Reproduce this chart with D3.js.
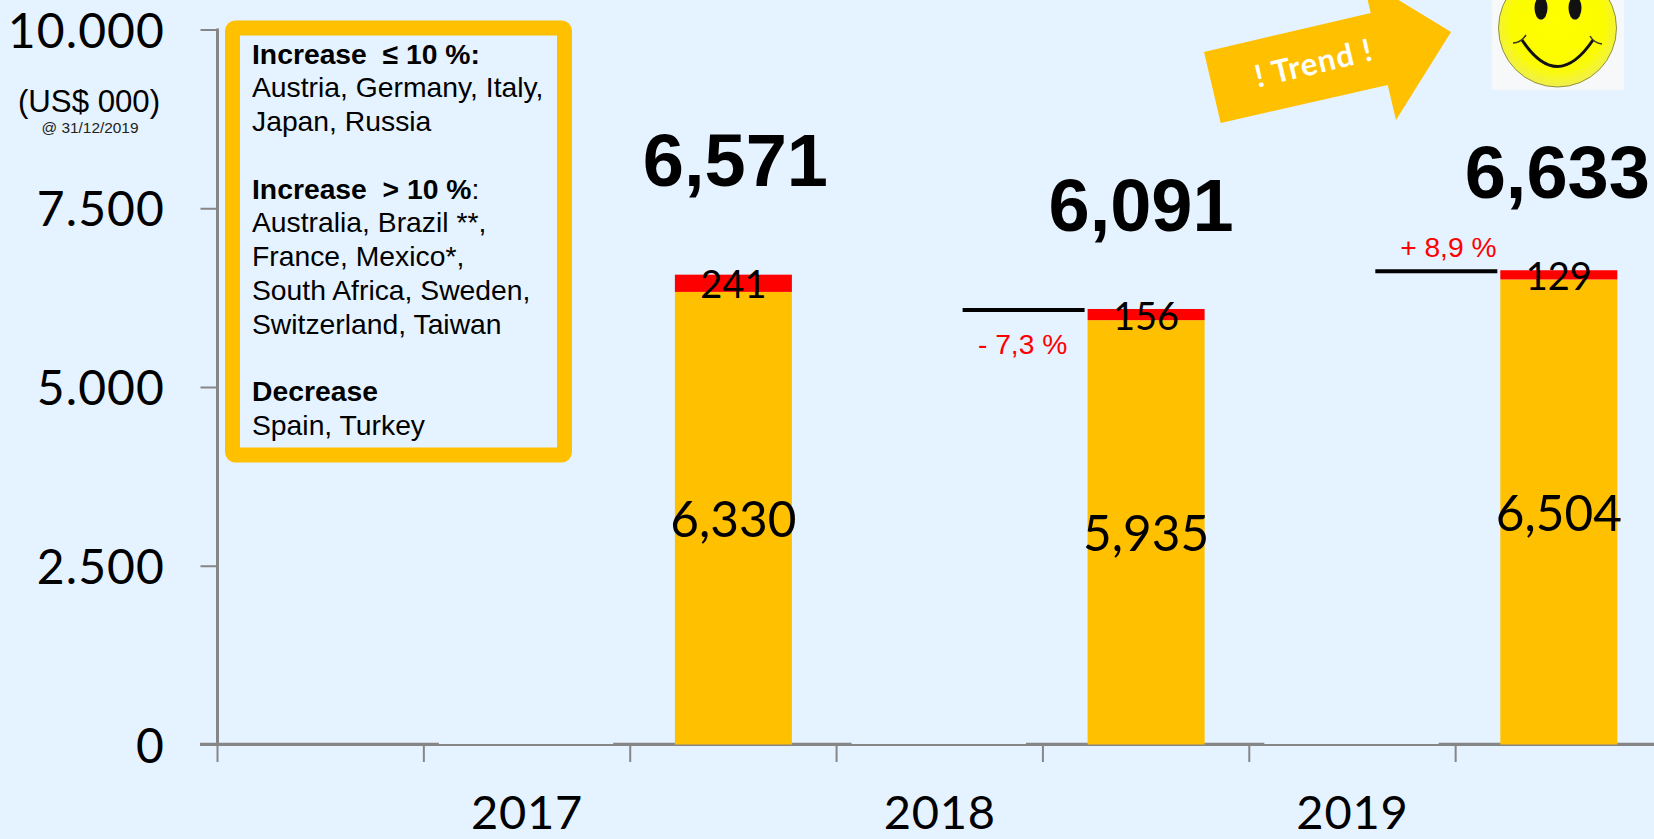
<!DOCTYPE html>
<html><head><meta charset="utf-8">
<script src="https://cdn.jsdelivr.net/npm/d3@7"></script>
<style>html,body{margin:0;padding:0;background:#E5F2FF;overflow:hidden}svg{display:block}</style>
</head><body><svg id="c" width="1654" height="839"></svg>
<script>
const slots = ["s0","2017","s2","2018","s4","2019","s6"];
const years = ["2017","2018","2019"];
const barSlots = ["s2","s4","s6"];
const mainValues = [6330,5935,6504];
const topValues = [241,156,129];
const totals = [6571,6091,6633];
const yTicks = [0,2500,5000,7500,10000];
const yTickLabels = ["0","2.500","5.000","7.500","10.000"];
const compareLines = [{slot:"s4",value:6091,label:"- 7,3 %"},{slot:"s6",value:6633,label:"+ 8,9 %"}];
const legendLines = [
 [["Increase  ≤ 10 %:",1]],[["Austria, Germany, Italy,",0]],[["Japan, Russia",0]],[],
 [["Increase  > 10 %",1],[":",0]],[["Australia, Brazil **,",0]],[["France, Mexico*,",0]],[["South Africa, Sweden,",0]],[["Switzerland, Taiwan",0]],[],
 [["Decrease",1]],[["Spain, Turkey",0]]];

const CAL="Lato, 'Open Sans', sans-serif", ARIAL="'Liberation Sans', Arial, sans-serif";
const svg=d3.select("#c");
svg.append("rect").attr("width",1654).attr("height",839).attr("fill","#E5F2FF");
const x=d3.scaleBand().domain(slots).range([217.5,1662]);
const y=d3.scaleLinear().domain([0,10000]).range([744.5,29.5]);
const barW=x.bandwidth()*0.567;
const bx=s=>x(s)+x.bandwidth()/2-barW/2;
const cx=s=>x(s)+x.bandwidth()/2;
const fmt=d3.format(",");

// axes
const grey="#868686";
const yAxis=svg.append("g").attr("transform","translate(217.5,0)").call(
  d3.axisLeft(y).tickValues(yTicks.slice(1)).tickSize(17).tickFormat(""));
yAxis.selectAll("line").attr("stroke",grey).attr("stroke-width",2);
yAxis.select(".domain").attr("d",`M0,${y(10000)-1}V${y(0)}`).attr("stroke",grey).attr("stroke-width",3);
svg.append("g").selectAll("text").data(yTicks).join("text")
  .attr("x",165).attr("y",d=>y(d)+18).attr("text-anchor","end")
  .attr("font-family",CAL).attr("font-size",48).attr("letter-spacing",1.1).attr("fill","#000")
  .text((d,i)=>yTickLabels[i]);
const xAxis=svg.append("g");
xAxis.append("line").attr("x1",200).attr("x2",1654).attr("y1",745).attr("y2",745).attr("stroke",grey).attr("stroke-width",2);
xAxis.selectAll("line.s").data(["s0","s2","s4","s6"]).join("line").attr("class","s")
  .attr("x1",d=>d==="s0"?200:x(d)-17).attr("x2",d=>x(d)+x.bandwidth()+15).attr("y1",744.4).attr("y2",744.4)
  .attr("stroke",grey).attr("stroke-width",3.3);
xAxis.selectAll("line.t").data(slots).join("line").attr("class","t")
  .attr("x1",d=>x(d)).attr("x2",d=>x(d)).attr("y1",745).attr("y2",762)
  .attr("stroke",grey).attr("stroke-width",2);
svg.append("g").selectAll("text").data(years).join("text")
  .attr("x",d=>x(d)+x.bandwidth()/2).attr("y",828.8).attr("text-anchor","middle")
  .attr("font-family",CAL).attr("font-size",47).attr("letter-spacing",0.8).text(d=>d);

// bars
svg.append("g").selectAll("rect").data(barSlots).join("rect")
  .attr("x",bx).attr("width",barW)
  .attr("y",(d,i)=>y(mainValues[i])).attr("height",(d,i)=>y(0)-y(mainValues[i])).attr("fill","#FFC000");
svg.append("g").selectAll("rect").data(barSlots).join("rect")
  .attr("x",bx).attr("width",barW)
  .attr("y",(d,i)=>y(mainValues[i]+topValues[i])).attr("height",(d,i)=>y(0)-y(topValues[i])).attr("fill","#FF0000");
// bar labels
svg.append("g").selectAll("text").data(barSlots).join("text")
  .attr("x",cx).attr("y",(d,i)=>y(mainValues[i]/2)+19).attr("text-anchor","middle")
  .attr("font-family",CAL).attr("font-size",49.5).text((d,i)=>fmt(mainValues[i]));
svg.append("g").selectAll("text").data(barSlots).join("text")
  .attr("x",cx).attr("y",(d,i)=>y(mainValues[i]+topValues[i]/2)+15).attr("text-anchor","middle")
  .attr("font-family",CAL).attr("font-size",38).text((d,i)=>fmt(topValues[i]));
const totalDx=[2,-5,-1.5], totalGap=[89,77.7,72];
svg.append("g").selectAll("text").data(barSlots).join("text")
  .attr("x",(d,i)=>cx(d)+totalDx[i]).attr("y",(d,i)=>y(totals[i])-totalGap[i]).attr("text-anchor","middle")
  .attr("font-family",ARIAL).attr("font-weight","bold").attr("font-size",74).text((d,i)=>fmt(totals[i]));

// compare lines
const lines=svg.append("g");
compareLines.forEach((c,i)=>{
  const l=bx(c.slot);
  lines.append("line").attr("x1",l-125).attr("x2",l-3).attr("y1",y(c.value)+1).attr("y2",y(c.value)+1)
    .attr("stroke","#000").attr("stroke-width",4);
  lines.append("text").attr("x",l-(i?52:65)).attr("y",i?256.5:354).attr("text-anchor","middle")
    .attr("font-family",ARIAL).attr("font-size",28.2).attr("fill","#FF0000").text(c.label);
});

// legend box
svg.append("rect").attr("x",232.5).attr("y",28).attr("width",332).attr("height",427)
  .attr("fill","none").attr("stroke","#FFC000").attr("stroke-width",15).attr("rx",3);
const lg=svg.append("g").attr("font-family",ARIAL).attr("font-size",28.3).attr("fill","#000");
legendLines.forEach((ln,i)=>{
  const t=lg.append("text").attr("x",252).attr("y",63.5+i*33.75).style("white-space","pre");
  ln.forEach(([s,b])=>t.append("tspan").attr("font-weight",b?"bold":"normal").text(s));
});
svg.append("text").attr("x",89).attr("y",112).attr("text-anchor","middle").attr("font-family",ARIAL).attr("font-size",31.2).text("(US$ 000)");
svg.append("text").attr("x",90).attr("y",132.5).attr("text-anchor","middle").attr("font-family",ARIAL).attr("font-size",15.4).attr("fill","#222").text("@ 31/12/2019");

// trend arrow
const arrow=[[1220.7,123],[1204,52],[1370.7,13],[1362.5,-22],[1451,32],[1396,120],[1387.7,85]];
svg.append("path").attr("d",d3.line()(arrow)+"Z").attr("fill","#FFC000");
svg.append("text").attr("transform","translate(1314,64) rotate(-13.4)").attr("text-anchor","middle")
  .attr("dy",10).attr("font-family",CAL).attr("font-weight","bold").attr("font-size",31).attr("letter-spacing",1.2).attr("fill","#fff").text("! Trend !");

// smiley
const defs=svg.append("defs");
const g=defs.append("radialGradient").attr("id","sm").attr("cx","50%").attr("cy","45%").attr("r","55%");
g.append("stop").attr("offset","0%").attr("stop-color","#FFFF00");
g.append("stop").attr("offset","72%").attr("stop-color","#FCFC00");
g.append("stop").attr("offset","100%").attr("stop-color","#EFEF50");
const s=svg.append("g");
s.append("rect").attr("x",1492).attr("y",0).attr("width",132).attr("height",90).attr("fill","#F6F8FA");
s.append("circle").attr("cx",1557.5).attr("cy",28).attr("r",59).attr("fill","url(#sm)").attr("stroke","#77772a").attr("stroke-width",.8);
s.selectAll("ellipse").data([1541,1575]).join("ellipse").attr("cx",d=>d).attr("cy",8).attr("rx",6.5).attr("ry",11.5).attr("fill","#111");
s.append("path").attr("d","M1522,40Q1557,93 1593,40").attr("fill","none").attr("stroke","#111").attr("stroke-width",3);
s.append("path").attr("d","M1513,43Q1521,43 1526,35M1602,44Q1594,43 1590,36").attr("fill","none").attr("stroke","#333").attr("stroke-width",1.5);
</script></body></html>
